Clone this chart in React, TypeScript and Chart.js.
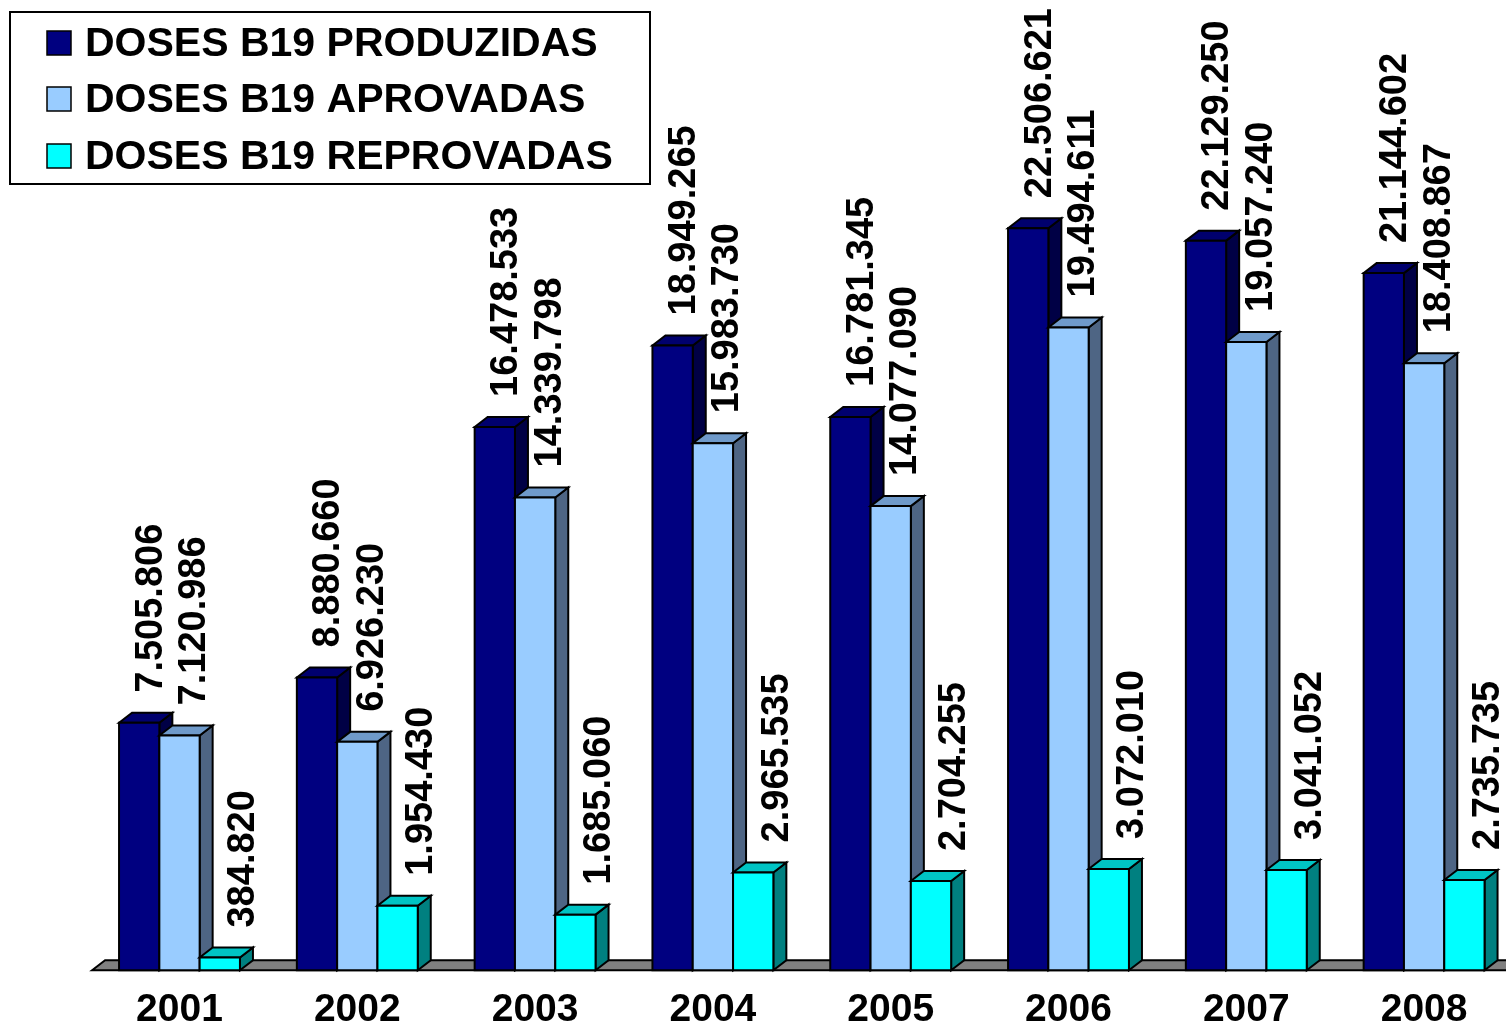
import React, { useEffect, useRef } from "react";
import { Chart, registerables } from "chart.js";

Chart.register(...registerables);

const years = ["2001", "2002", "2003", "2004", "2005", "2006", "2007", "2008"];
const produzidas = [7505806, 8880660, 16478533, 18949265, 16781345, 22506621, 22129250, 21144602];
const aprovadas = [7120986, 6926230, 14339798, 15983730, 14077090, 19494611, 19057240, 18408867];
const reprovadas = [384820, 1954430, 1685060, 2965535, 2704255, 3072010, 3041052, 2735735];
const seriesNames = ["DOSES B19 PRODUZIDAS", "DOSES B19 APROVADAS", "DOSES B19 REPROVADAS"];

const frontColors = ["#000080", "#99CCFF", "#00FFFF"];
const topColors = ["#00006E", "#6F9ACA", "#00C4C4"];
const sideColors = ["#000045", "#4E6584", "#008080"];
const labelOffsets = [10, 13, 22];

const DX = 13;
const DY = -10;
const FONT = "'Liberation Sans', Arial, Helvetica, sans-serif";

function fmt(v: number): string {
  return String(v).replace(/\B(?=(\d{3})+(?!\d))/g, ".");
}

function poly(ctx: CanvasRenderingContext2D, pts: number[][], fill: string) {
  ctx.beginPath();
  ctx.moveTo(pts[0][0], pts[0][1]);
  for (let i = 1; i < pts.length; i++) ctx.lineTo(pts[i][0], pts[i][1]);
  ctx.closePath();
  ctx.fillStyle = fill;
  ctx.fill();
  ctx.stroke();
}

const bar3d = {
  id: "bar3d",
  beforeDatasetsDraw(chart: any) {
    const ctx: CanvasRenderingContext2D = chart.ctx;
    const a = chart.chartArea;
    const base = chart.scales.y.getPixelForValue(0);
    ctx.save();
    ctx.lineWidth = 2;
    ctx.strokeStyle = "#000000";
    ctx.lineJoin = "miter";
    poly(
      ctx,
      [
        [a.left + 1.5, base],
        [a.left + 1.5 + DX, base + DY],
        [a.right + 40, base + DY],
        [a.right + 40, base],
      ],
      "#808080"
    );
    ctx.restore();
  },
  afterDatasetsDraw(chart: any) {
    const ctx: CanvasRenderingContext2D = chart.ctx;
    const n = chart.data.labels.length;
    const nd = chart.data.datasets.length;
    ctx.save();
    ctx.lineWidth = 2;
    ctx.strokeStyle = "#000000";
    ctx.lineJoin = "miter";
    for (let i = 0; i < n; i++) {
      for (let d = 0; d < nd; d++) {
        const el = chart.getDatasetMeta(d).data[i];
        const p = el.getProps(["x", "y", "base", "width"], true);
        const l = p.x - p.width / 2;
        const r = p.x + p.width / 2;
        const y = p.y;
        const b = p.base;
        poly(ctx, [[r, b], [r + DX, b + DY], [r + DX, y + DY], [r, y]], sideColors[d]);
        poly(ctx, [[l, y], [l + DX, y + DY], [r + DX, y + DY], [r, y]], topColors[d]);
        poly(ctx, [[l, b], [l, y], [r, y], [r, b]], frontColors[d]);
      }
    }
    // value labels
    ctx.fillStyle = "#000000";
    ctx.font = `bold 38px ${FONT}`;
    ctx.textAlign = "left";
    ctx.textBaseline = "middle";
    for (let d = 0; d < nd; d++) {
      const meta = chart.getDatasetMeta(d);
      const vals = chart.data.datasets[d].data;
      for (let i = 0; i < n; i++) {
        const el = meta.data[i];
        const p = el.getProps(["x", "y"], true);
        ctx.save();
        ctx.translate(p.x + labelOffsets[d], p.y - 30);
        ctx.rotate(-Math.PI / 2);
        ctx.fillText(fmt(vals[i]), 0, 2);
        ctx.restore();
      }
    }
    ctx.restore();
  },
  afterDraw(chart: any) {
    const ctx: CanvasRenderingContext2D = chart.ctx;
    ctx.save();
    ctx.fillStyle = "#FFFFFF";
    ctx.fillRect(10, 12, 640, 172);
    ctx.lineWidth = 2;
    ctx.strokeStyle = "#000000";
    ctx.strokeRect(10, 12, 640, 172);
    const rows = [43, 99, 156];
    ctx.font = `bold 41px ${FONT}`;
    ctx.textAlign = "left";
    ctx.textBaseline = "middle";
    chart.data.datasets.forEach((ds: any, k: number) => {
      const cy = rows[k];
      ctx.fillStyle = ds.backgroundColor;
      ctx.lineWidth = 1.5;
      ctx.fillRect(47, cy - 12, 24, 24);
      ctx.strokeRect(47, cy - 12, 24, 24);
      ctx.fillStyle = "#000000";
      ctx.fillText(ds.label, 85, cy + 2);
    });
    ctx.restore();
  },
};

export default function App() {
  const ref = useRef<HTMLCanvasElement | null>(null);
  useEffect(() => {
    if (!ref.current) return;
    const chart = new Chart(ref.current, {
      type: "bar",
      data: {
        labels: years,
        datasets: [
          { label: seriesNames[0], data: produzidas, backgroundColor: frontColors[0], borderColor: "#000", borderWidth: 2 },
          { label: seriesNames[1], data: aprovadas, backgroundColor: frontColors[1], borderColor: "#000", borderWidth: 2 },
          { label: seriesNames[2], data: reprovadas, backgroundColor: frontColors[2], borderColor: "#000", borderWidth: 2 },
        ],
      },
      options: {
        responsive: false,
        animation: false,
        devicePixelRatio: 1,
        layout: { padding: { left: 90.6, right: 7, top: 47.1, bottom: 0 } },
        datasets: { bar: { categoryPercentage: 0.68, barPercentage: 1.0 } },
        plugins: { legend: { display: false }, tooltip: { enabled: false } },
        scales: {
          x: {
            grid: { display: false, drawTicks: false, tickLength: 0 },
            border: { display: false },
            ticks: {
              color: "#000000",
              padding: 17,
              maxRotation: 0,
              font: { family: FONT, size: 39, weight: "bold" },
            },
          },
          y: {
            display: false,
            min: 0,
            max: 28000000,
          },
        },
      },
      plugins: [bar3d],
    });
    return () => chart.destroy();
  }, []);
  return (
    <div style={{ position: "absolute", left: 0, top: 0, width: 1506, height: 1026, overflow: "hidden", background: "#fff" }}>
      <canvas ref={ref} width={1520} height={1051} style={{ display: "block" }} />
    </div>
  );
}
